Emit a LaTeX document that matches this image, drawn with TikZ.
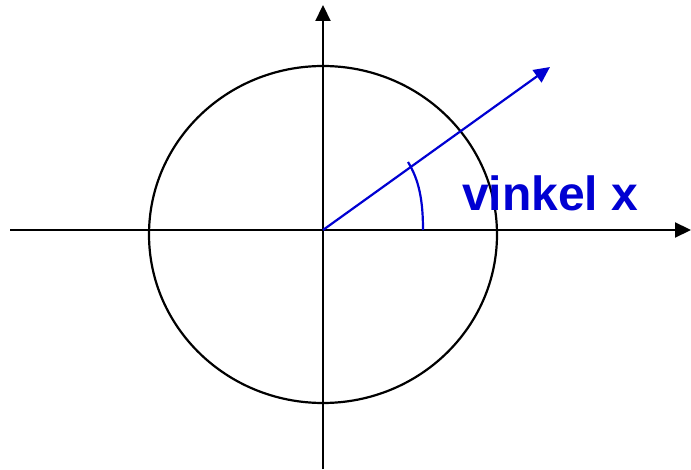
\documentclass[tikz,border=0pt]{standalone}
\usepackage{fontspec}
\setmainfont{Liberation Sans}
\usetikzlibrary{arrows.meta}
\definecolor{vblue}{RGB}{0,0,210}
\begin{document}
\begin{tikzpicture}[x=1pt,y=-1pt,
  axis/.style={line width=2.2pt,-{Triangle[length=16pt,width=15pt]}},
  vec/.style={line width=2.2pt,vblue,-{Triangle[length=16pt,width=15pt]}},
  anglearc/.style={line width=2.2pt,vblue},
  lbl/.style={font=\bfseries\fontsize{48}{48}\selectfont,text=vblue,inner sep=0pt,anchor=base west}]
\useasboundingbox (0,0) rectangle (691,470);
\coordinate (O) at (323,230);
\coordinate (xl) at (10,230);
\coordinate (xr) at (691,230);
\coordinate (yb) at (323,469);
\coordinate (yt) at (323,5);
\coordinate (V) at (550,67);
\coordinate (A0) at (423,230);
\coordinate (A1) at (408,162);
\draw[line width=2.2pt] (323,234.5) ellipse [x radius=174, y radius=168.5];
\draw[axis] (xl) -- (xr);
\draw[axis] (yb) -- (yt);
\draw[vec] (O) -- (V);
\draw[anglearc] (A0) .. controls (423,200) and (419,180) .. (A1);
\node[lbl] (lab) at (462,211) {vinkel x};
\end{tikzpicture}
\end{document}
